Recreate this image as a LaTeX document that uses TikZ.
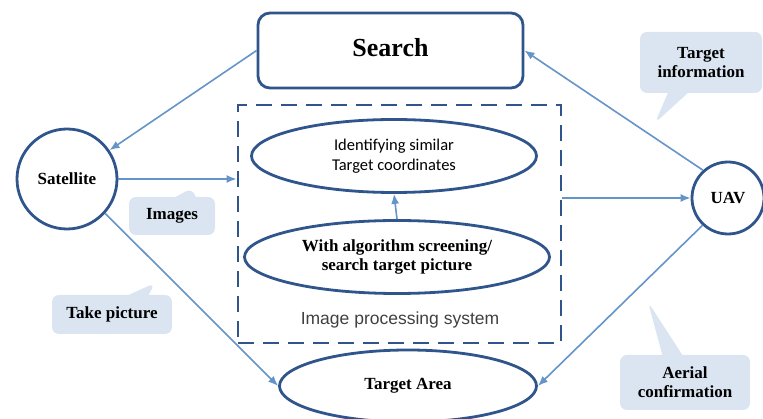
\documentclass[tikz,border=0pt]{standalone}
\usepackage{fontspec}
\setmainfont{Liberation Serif}
\newfontfamily\arialfont{Liberation Sans}
\newfontfamily\calibrifont{Carlito}
\usetikzlibrary{shapes.geometric,shapes.callouts,arrows.meta}

\definecolor{navy}{RGB}{47,85,140}
\definecolor{arrowblue}{RGB}{100,148,200}
\definecolor{bubble}{RGB}{218,229,241}
\newcommand{\labelfont}{\fontsize{17}{19}\selectfont\bfseries}

\tikzset{
    outline/.style={draw=navy, line width=2.8pt, fill=white, inner sep=0pt},
    link/.style={draw=arrowblue, line width=1.6pt, -{Latex[length=10pt,width=8pt]}},
    bubblebox/.style={rectangle callout, fill=bubble, rounded corners=7pt, inner sep=0pt,
        callout pointer width=20pt, align=center, font=\labelfont}
}

\begin{document}
\begin{tikzpicture}[x=1pt, y=-1pt]
    \useasboundingbox (0,0) rectangle (763,419);
    %--------------------%
    % Parameters
    %--------------------%
    \def\boxlw{2.8pt}
    \def\ellh{73pt}

    %--------------------%
    % Callouts
    %--------------------%
    \node[bubblebox, minimum width=86pt, minimum height=38pt, callout absolute pointer={(192,188)}] (imgnote) at (172,216) {Images};
    \node[bubblebox, minimum width=120pt, minimum height=39pt, callout absolute pointer={(155,283)}] (picnote) at (112,314.5) {Take picture};
    \node[bubblebox, minimum width=122pt, minimum height=61pt, callout absolute pointer={(655,123)}] (infonote) at (701,62.5) {Target\\information};
    \node[bubblebox, minimum width=130pt, minimum height=55pt, callout absolute pointer={(648,302)}] (aerialnote) at (685,382.5) {Aerial\\confirmation};

    %--------------------%
    % Outer Nodes
    %--------------------%
    \node[outline, rounded corners=12pt, minimum width=265pt, minimum height=75pt, font=\fontsize{26}{30}\selectfont\bfseries] (search) at (390.5,50.5) {\raisebox{6pt}{Search}};
    \node[outline, circle, minimum size=100pt, font=\labelfont] (sat) at (67,179) {Satellite};
    \node[outline, circle, minimum size=72pt, font=\labelfont] (uav) at (728,198) {UAV};
    \node[outline, ellipse, minimum width=257pt, minimum height=72pt, font=\labelfont] (area) at (408,386) {Target Area};

    %--------------------%
    % Image Processing System
    %--------------------%
    \node[draw=navy, line width=\boxlw, dash pattern=on 16pt off 9pt, minimum width=323pt, minimum height=238pt, inner sep=0pt] (ips) at (399.5,224) {};
    \node[outline, ellipse, minimum width=285pt, minimum height=\ellh, align=center, font=\calibrifont\fontsize{16.5}{20}\selectfont] (ident) at (394,156) {Identifying similar\\Target coordinates};
    \node[outline, ellipse, minimum width=305pt, minimum height=\ellh, align=center, font=\labelfont] (algo) at (397,257) {With algorithm screening/\\search target picture};
    \node[text=black!75, font=\arialfont\fontsize{17.5}{20}\selectfont] (ipslabel) at (400,320) {Image processing system};

    %--------------------%
    % Connections
    %--------------------%
    \draw[link] (search.west) -- (sat);
    \draw[link] (sat.east) -- (sat.east -| ips.west);
    \draw[link] (sat.-42) -- (area.west);
    \draw[link] (algo.north) -- (ident.south);
    \draw[link] (ips.east |- uav.west) -- (uav.west);
    \draw[link] (uav.132) -- (search.east);
    \draw[link] (uav.-133) -- (area.east);

\end{tikzpicture}
\end{document}
